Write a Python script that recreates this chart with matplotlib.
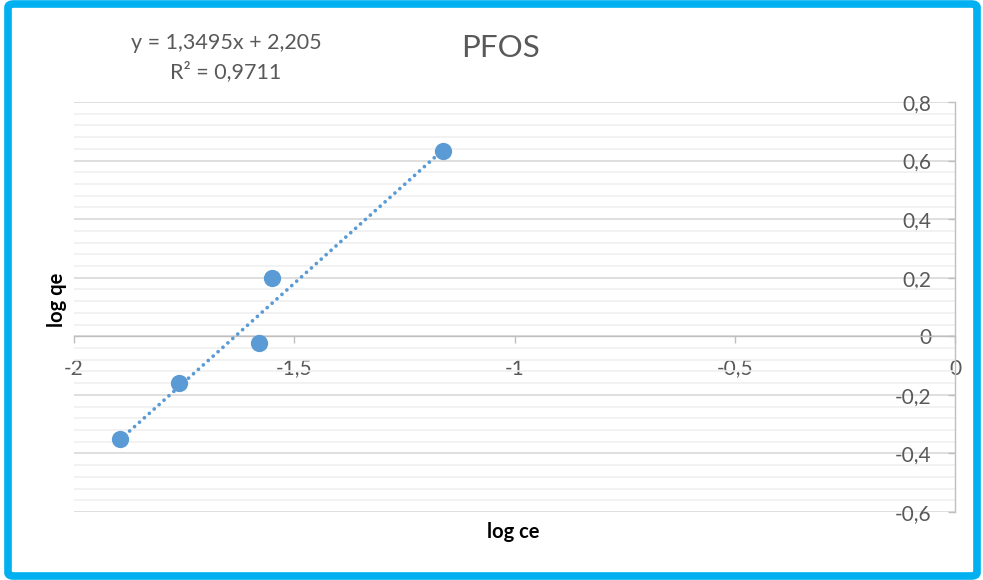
import numpy as np
import matplotlib
matplotlib.use("Agg")
import matplotlib.pyplot as plt
from matplotlib.patches import FancyBboxPatch
from matplotlib.ticker import MultipleLocator, FuncFormatter

plt.rcParams['font.family'] = ['Lato', 'DejaVu Sans']

# Freundlich isotherm data (log-transformed)
log_ce = [-1.896, -1.762, -1.580, -1.5505, -1.162]
log_qe = [-0.352, -0.160, -0.024, 0.198, 0.631]

# Linear trendline parameters
slope = 1.3495
intercept = 2.205
r_squared = 0.9711

title = "PFOS"
x_label = "log ce"
y_label = "log qe"

W, H = 983, 580
fig = plt.figure(figsize=(W / 100, H / 100), dpi=100)
ax = fig.add_axes([74 / W, 1 - 512 / H, (955 - 74) / W, (512 - 102) / H])

blue = "#5B9BD5"
grey_txt = "#595959"

ax.set_xlim(-2, 0)
ax.set_ylim(-0.6, 0.8)

# Trendline over the data range
xs = np.linspace(min(log_ce), max(log_ce), 50)
ax.plot(xs, slope * xs + intercept, color=blue, lw=2.7,
        linestyle=(0, (0.01, 1.75)), dash_capstyle="round", zorder=3)
ax.scatter(log_ce, log_qe, s=155, color=blue, zorder=4, linewidths=0)

# Axes crossing at zero
for s in ("top", "right"):
    ax.spines[s].set_visible(False)
ax.spines["left"].set_position(("data", 0))
ax.spines["bottom"].set_position(("data", 0))
for s in ("left", "bottom"):
    ax.spines[s].set_color("#BFBFBF")
    ax.spines[s].set_linewidth(1.0)

ax.xaxis.set_major_locator(MultipleLocator(0.5))
ax.yaxis.set_major_locator(MultipleLocator(0.2))
ax.yaxis.set_minor_locator(MultipleLocator(0.04))

fmt = FuncFormatter(lambda v, p: ("%g" % round(v, 2)).replace(".", ","))
ax.xaxis.set_major_formatter(fmt)
ax.yaxis.set_major_formatter(fmt)

ax.tick_params(axis="both", which="major", length=5, width=1.0,
               color="#BFBFBF", labelcolor=grey_txt, labelsize=15)
ax.tick_params(axis="x", pad=11)
ax.tick_params(axis="y", pad=12)
ax.tick_params(axis="y", which="minor", length=0)

ax.set_axisbelow(True)
ax.grid(axis="y", which="major", color="#D9D9D9", lw=1.2)
ax.grid(axis="y", which="minor", color="#F0F0F0", lw=1.2)
ax.grid(axis="x", visible=False)

# Titles and labels
fig.text(500 / W, 1 - 48 / H, title, ha="center", va="center",
         fontsize=22.5, color=grey_txt)
fig.text(513 / W, 1 - 532 / H, x_label, ha="center", va="center",
         fontsize=14.5, fontweight="bold", color="black")
fig.text(57 / W, 1 - 300 / H, y_label, ha="center", va="center",
         fontsize=14.5, fontweight="bold", color="black", rotation=90)

eq = "y = %sx + %s" % (str(slope).replace(".", ","), str(intercept).replace(".", ","))
fig.text(226 / W, 1 - 43 / H, eq, ha="center", va="center",
         fontsize=15.5, color=grey_txt)
fig.text(226 / W, 1 - 72 / H, "R² = " + str(r_squared).replace(".", ","),
         ha="center", va="center", fontsize=15.5, color=grey_txt)

# Rounded cyan frame around the chart
frame = FancyBboxPatch((8 / W, 4 / H), (W - 14) / W, (H - 8) / H,
                       boxstyle="round,pad=0,rounding_size=0.006",
                       transform=fig.transFigure, fill=False,
                       edgecolor="#00B0F0", linewidth=5.5)
fig.patches.append(frame)

fig.savefig("out.png", dpi=100)
